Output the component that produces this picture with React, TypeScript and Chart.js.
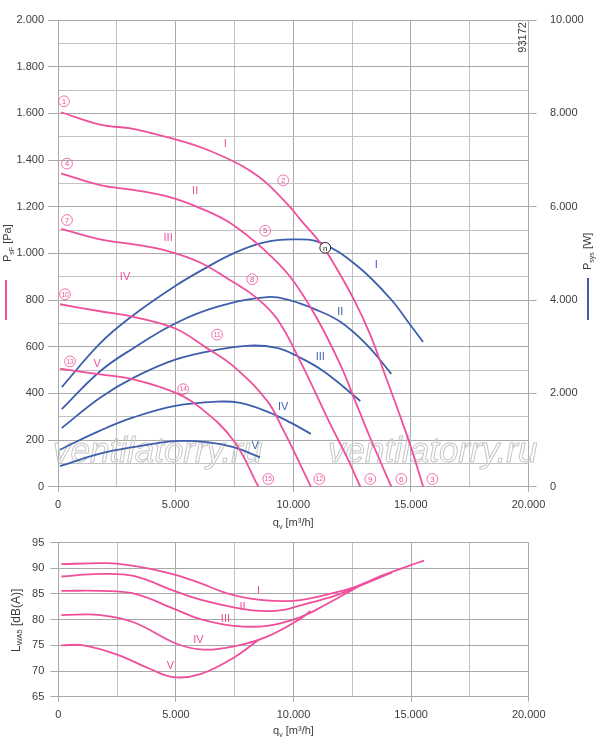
import { useEffect, useRef } from "react"
import { Chart, registerables } from "chart.js"

Chart.register(...registerables)

const PINK = "#ef4f9b"
const BLUE = "#3d5fab"
const GRID_MAJOR = "#a9a9a9"
const GRID_MINOR = "#c2c2c2"
const TEXT = "#3c3c3c"
const FONT = "'Liberation Sans', Arial, Helvetica, sans-serif"

const curveNames = ["I", "II", "III", "IV", "V"]

// static pressure psF [Pa] over volume flow qv [m3/h]
const psfQ1 = [130, 1800, 3200, 4640, 6040, 7450, 8150, 8880, 9940, 10300, 11150, 11700, 12560, 13280, 13900, 14500, 15000, 15520]
const psf1 = [1605, 1552, 1534, 1498, 1456, 1395, 1355, 1300, 1190, 1145, 1045, 960, 806, 650, 480, 315, 170, 0]
const psfQ2 = [130, 1790, 3200, 4640, 6040, 7320, 8730, 9870, 11010, 12000, 12690, 13260, 14170]
const psf2 = [1343, 1293, 1272, 1244, 1194, 1130, 1018, 900, 721, 523, 353, 212, 0]
const psfQ3 = [130, 1790, 3210, 4630, 6040, 7460, 8310, 9300, 10300, 11570, 12280, 12850]
const psf3 = [1105, 1060, 1039, 1011, 961, 876, 820, 721, 537, 269, 127, 0]
const psfQ4 = [85, 1790, 3200, 4980, 6330, 7460, 8890, 9590, 10300, 10750]
const psf4 = [782, 752, 728, 678, 594, 516, 368, 240, 95, 0]
const psfQ5 = [85, 1790, 3200, 4980, 6040, 7460, 8520]
const psf5 = [506, 481, 460, 403, 339, 198, 0]

// system power Psys [W]
const psysQ1 = [160, 1790, 3200, 4980, 6040, 7460, 8730, 9940, 11150, 12710, 14130, 14980, 15520]
const psys1 = [2135, 3074, 3676, 4300, 4620, 5000, 5230, 5300, 5230, 4736, 4028, 3464, 3100]
const psysQ2 = [160, 1790, 3200, 4980, 6750, 8890, 9870, 10860, 12000, 13130, 14170]
const psys2 = [1662, 2474, 2968, 3498, 3852, 4064, 3994, 3816, 3534, 3040, 2417]
const psysQ3 = [160, 1790, 3200, 4980, 6750, 8170, 9300, 10160, 11290, 12850]
const psys3 = [1259, 1908, 2332, 2722, 2934, 3025, 2975, 2800, 2474, 1838]
const psysQ4 = [85, 1790, 3200, 4980, 6750, 7750, 8940, 9870, 10750]
const psys4 = [793, 1202, 1484, 1732, 1823, 1795, 1600, 1378, 1132]
const psysQ5 = [85, 1790, 3200, 4980, 6330, 7460, 8590]
const psys5 = [439, 708, 848, 975, 954, 848, 630]

// sound power LWA5 [dB(A)]
const lwaQ1 = [130, 1790, 2500, 3910, 4980, 6040, 7180, 8170, 9590, 10300, 11710, 12500, 13840, 14980, 15550]
const lwa1 = [90.8, 91.0, 90.9, 89.9, 88.7, 87.1, 85.1, 84.1, 83.6, 83.8, 85.2, 86.2, 88.7, 90.6, 91.5]
const lwaQ2 = [130, 1790, 3200, 4980, 6040, 7460, 8590, 9590, 10300, 11710, 12500, 14200]
const lwa2 = [88.4, 88.9, 88.5, 85.5, 83.9, 82.4, 81.7, 81.9, 82.8, 84.6, 86.0, 89.2]
const lwaQ3 = [130, 1790, 3200, 4980, 6040, 7460, 8880, 10300, 11400, 12500, 12850]
const lwa3 = [85.6, 85.6, 85.1, 82.0, 80.1, 78.8, 78.8, 80.5, 83.0, 85.8, 86.7]
const lwaQ4 = [130, 1790, 3200, 4980, 6040, 7460, 8880, 10300, 10720]
const lwa4 = [80.9, 80.9, 79.5, 75.4, 74.2, 74.8, 76.7, 80.2, 81.7]
const lwaQ5 = [130, 1080, 2500, 3910, 4910, 6040, 7460, 8520]
const lwa5 = [75.0, 75.0, 73.2, 70.4, 68.8, 69.4, 72.6, 76.1]

// curve annotations
const psfLabelQ = [7106, 5829, 4681, 2851, 1660]
const psfLabelP = [1470, 1266, 1066, 897, 524]
const startMarks = ["1", "4", "7", "10", "13"]
const startMarkQ = [255, 383, 383, 298, 511]
const startMarkP = [1652, 1385, 1143, 825, 537]
const midMarks = ["2", "5", "8", "11", "14"]
const midMarkQ = [9574, 8808, 8255, 6765, 5319]
const midMarkP = [1313, 1097, 889, 652, 418]
const endMarks = ["3", "6", "9", "12", "15"]
const endMarkQ = [15914, 14595, 13276, 11106, 8936]
const endMarkP = [33, 33, 33, 33, 33]
const psysLabelQ = [13530, 12000, 11150, 9574, 8382]
const psysLabelW = [4760, 3745, 2790, 1710, 880]
const nominalQ = 11360
const nominalP = 1024
const lwaLabelQ = [8510, 7830, 7106, 5957, 4766]
const lwaLabelL = [85.6, 82.55, 80.1, 76.1, 71.0]

const psfQ = [psfQ1, psfQ2, psfQ3, psfQ4, psfQ5]
const psf = [psf1, psf2, psf3, psf4, psf5]
const psysQ = [psysQ1, psysQ2, psysQ3, psysQ4, psysQ5]
const psys = [psys1, psys2, psys3, psys4, psys5]
const lwaQ = [lwaQ1, lwaQ2, lwaQ3, lwaQ4, lwaQ5]
const lwa = [lwa1, lwa2, lwa3, lwa4, lwa5]

const fmt = (v: number) =>
  v >= 1000 ? `${Math.floor(v / 1000)}.${String(v % 1000).padStart(3, "0")}` : String(v)

const toPoints = (q: number[], v: number[]) => q.map((x, i) => ({ x, y: v[i] }))

type Run = { t: string; size: number; dy: number }

function runsWidth(ctx: CanvasRenderingContext2D, runs: Run[]) {
  let w = 0
  for (const r of runs) {
    ctx.font = `${r.size}px ${FONT}`
    w += ctx.measureText(r.t).width
  }
  return w
}

function drawRuns(ctx: CanvasRenderingContext2D, runs: Run[], x: number, y: number, color: string) {
  ctx.fillStyle = color
  ctx.textAlign = "left"
  ctx.textBaseline = "alphabetic"
  let cx = x
  for (const r of runs) {
    ctx.font = `${r.size}px ${FONT}`
    ctx.fillText(r.t, cx, y + r.dy)
    cx += ctx.measureText(r.t).width
  }
}

function drawVertical(ctx: CanvasRenderingContext2D, runs: Run[], x: number, y: number) {
  ctx.save()
  ctx.translate(x, y)
  ctx.rotate(-Math.PI / 2)
  drawRuns(ctx, runs, 0, 0, TEXT)
  ctx.restore()
}

function circled(ctx: CanvasRenderingContext2D, x: number, y: number, label: string, color: string, filled = false) {
  ctx.beginPath()
  ctx.arc(x, y, 5.4, 0, Math.PI * 2)
  if (filled) {
    ctx.fillStyle = "#fff"
    ctx.fill()
  }
  ctx.strokeStyle = color
  ctx.lineWidth = filled ? 1 : 0.8
  ctx.stroke()
  ctx.fillStyle = color
  ctx.textAlign = "center"
  ctx.textBaseline = "middle"
  ctx.font = `${label.length > 1 ? 6.5 : 8}px ${FONT}`
  ctx.fillText(label, x, y + 0.5)
}

const qvTitle: Run[] = [
  { t: "q", size: 11, dy: 0 },
  { t: "v", size: 7, dy: 2.5 },
  { t: " [m³/h]", size: 11, dy: 0 },
]

const topDecor = {
  id: "topDecor",
  beforeDatasetsDraw(chart: Chart) {
    const { ctx } = chart
    ctx.save()
    ctx.font = `italic 35px ${FONT}`
    ctx.strokeStyle = "#c6c6c6"
    ctx.lineWidth = 1
    ctx.textAlign = "left"
    ctx.textBaseline = "alphabetic"
    ctx.strokeText("ventilatorry.ru", 53, 462)
    ctx.strokeText("ventilatorry.ru", 328, 462)
    ctx.restore()
  },
  afterDatasetsDraw(chart: Chart) {
    const { ctx, scales } = chart
    const x = scales.x
    const y = scales.y
    const y2 = scales.y2
    ctx.save()
    curveNames.forEach((n, i) => {
      ctx.font = `11px ${FONT}`
      ctx.textAlign = "center"
      ctx.textBaseline = "middle"
      ctx.fillStyle = PINK
      ctx.fillText(n, x.getPixelForValue(psfLabelQ[i]), y.getPixelForValue(psfLabelP[i]))
      ctx.fillStyle = BLUE
      ctx.fillText(n, x.getPixelForValue(psysLabelQ[i]), y2.getPixelForValue(psysLabelW[i]))
      circled(ctx, x.getPixelForValue(startMarkQ[i]), y.getPixelForValue(startMarkP[i]), startMarks[i], PINK)
      circled(ctx, x.getPixelForValue(midMarkQ[i]), y.getPixelForValue(midMarkP[i]), midMarks[i], PINK)
      circled(ctx, x.getPixelForValue(endMarkQ[i]), y.getPixelForValue(endMarkP[i]), endMarks[i], PINK)
    })
    circled(ctx, x.getPixelForValue(nominalQ), y.getPixelForValue(nominalP), "n", "#222", true)
    ctx.restore()
  },
  afterDraw(chart: Chart) {
    const { ctx, chartArea } = chart
    ctx.save()
    // x title
    const w = runsWidth(ctx, qvTitle)
    drawRuns(ctx, qvTitle, (chartArea.left + chartArea.right) / 2 - w / 2, chartArea.bottom + 39.5, TEXT)
    // left title with legend stroke
    drawVertical(ctx, [
      { t: "P", size: 11, dy: 0 },
      { t: "sF", size: 7, dy: 2.5 },
      { t: " [Pa]", size: 11, dy: 0 },
    ], 11, 262)
    ctx.strokeStyle = PINK
    ctx.lineWidth = 2
    ctx.beginPath()
    ctx.moveTo(6, 280)
    ctx.lineTo(6, 320)
    ctx.stroke()
    // right title with legend stroke
    drawVertical(ctx, [
      { t: "P", size: 11, dy: 0 },
      { t: "sys", size: 7, dy: 2.5 },
      { t: " [W]", size: 11, dy: 0 },
    ], 591, 270)
    ctx.strokeStyle = BLUE
    ctx.beginPath()
    ctx.moveTo(588, 278)
    ctx.lineTo(588, 320)
    ctx.stroke()
    // drawing number
    ctx.translate(chartArea.right - 5.5, chartArea.top + 2)
    ctx.rotate(-Math.PI / 2)
    ctx.font = `11px ${FONT}`
    ctx.fillStyle = TEXT
    ctx.textAlign = "right"
    ctx.textBaseline = "middle"
    ctx.fillText("93172", 0, 0)
    ctx.restore()
  },
}

const bottomDecor = {
  id: "bottomDecor",
  afterDatasetsDraw(chart: Chart) {
    const { ctx, scales } = chart
    ctx.save()
    ctx.font = `11px ${FONT}`
    ctx.fillStyle = PINK
    ctx.textAlign = "center"
    ctx.textBaseline = "middle"
    curveNames.forEach((n, i) => {
      ctx.fillText(n, scales.x.getPixelForValue(lwaLabelQ[i]), scales.y.getPixelForValue(lwaLabelL[i]))
    })
    ctx.restore()
  },
  afterDraw(chart: Chart) {
    const { ctx, chartArea } = chart
    ctx.save()
    const w = runsWidth(ctx, qvTitle)
    drawRuns(ctx, qvTitle, (chartArea.left + chartArea.right) / 2 - w / 2, chartArea.bottom + 37.5, TEXT)
    drawVertical(ctx, [
      { t: "L", size: 12, dy: 0 },
      { t: "WA5", size: 7.5, dy: 2.5 },
      { t: " [dB(A)]", size: 12, dy: 0 },
    ], 19.5, 122)
    ctx.restore()
  },
}

const gridColor = (step: number) => (c: any) =>
  c.tick && Math.round(c.tick.value) % step === 0 ? GRID_MAJOR : GRID_MINOR
const tickMarkColor = (step: number) => (c: any) =>
  c.tick && Math.round(c.tick.value) % step === 0 ? GRID_MAJOR : "rgba(0,0,0,0)"

const xScale = (height: number) => ({
  type: "linear" as const,
  min: 0,
  max: 20000,
  afterFit: (s: any) => {
    s.height = height
  },
  ticks: {
    stepSize: 2500,
    autoSkip: false,
    maxRotation: 0,
    padding: 7,
    color: TEXT,
    font: { family: FONT, size: 11 },
    callback: (v: any) => (Number(v) % 5000 === 0 ? fmt(Number(v)) : ""),
  },
  grid: { color: gridColor(5000), tickLength: 5, tickColor: tickMarkColor(5000), lineWidth: 1 },
  border: { color: GRID_MAJOR },
})

const lineStyle = (color: string) => ({
  borderColor: color,
  borderWidth: 1.8,
  pointRadius: 0,
  fill: false,
  tension: 0.4,
})

function FanCurves() {
  const topRef = useRef<HTMLCanvasElement>(null)
  const bottomRef = useRef<HTMLCanvasElement>(null)

  useEffect(() => {
    if (!topRef.current || !bottomRef.current) return

    const top = new Chart(topRef.current, {
      type: "line",
      data: {
        datasets: [
          ...curveNames.map((n, i) => ({
            label: `psF ${n}`,
            data: toPoints(psfQ[i], psf[i]),
            ...lineStyle(PINK),
            yAxisID: "y",
          })),
          ...curveNames.map((n, i) => ({
            label: `Psys ${n}`,
            data: toPoints(psysQ[i], psys[i]),
            ...lineStyle(BLUE),
            yAxisID: "y2",
          })),
        ],
      },
      options: {
        animation: false,
        responsive: true,
        maintainAspectRatio: false,
        events: [],
        layout: { padding: { top: 15, left: 0, right: 0, bottom: 0 } },
        plugins: { legend: { display: false }, tooltip: { enabled: false } },
        scales: {
          x: xScale(53.3),
          y: {
            type: "linear",
            position: "left",
            min: 0,
            max: 2000,
            afterFit: (s: any) => {
              s.width = 58
            },
            ticks: {
              stepSize: 100,
              autoSkip: false,
              padding: 4,
              color: TEXT,
              font: { family: FONT, size: 11 },
              callback: (v: any) => (Number(v) % 200 === 0 ? fmt(Number(v)) : ""),
            },
            grid: { color: gridColor(200), tickLength: 10, tickColor: tickMarkColor(200), lineWidth: 1 },
            border: { color: GRID_MAJOR },
          },
          y2: {
            type: "linear",
            position: "right",
            min: 0,
            max: 10000,
            afterFit: (s: any) => {
              s.width = 71.5
            },
            ticks: {
              stepSize: 2000,
              padding: 13.5,
              color: TEXT,
              font: { family: FONT, size: 11 },
              callback: (v: any) => fmt(Number(v)),
            },
            grid: { drawOnChartArea: false, tickLength: 8, tickColor: GRID_MAJOR },
            border: { color: GRID_MAJOR },
          },
        },
      },
      plugins: [topDecor],
    })

    const bottom = new Chart(bottomRef.current, {
      type: "line",
      data: {
        datasets: curveNames.map((n, i) => ({
          label: `LWA5 ${n}`,
          data: toPoints(lwaQ[i], lwa[i]),
          ...lineStyle(PINK),
        })),
      },
      options: {
        animation: false,
        responsive: true,
        maintainAspectRatio: false,
        events: [],
        layout: { padding: { top: 8.3, left: 0, right: 71.3, bottom: 0 } },
        plugins: { legend: { display: false }, tooltip: { enabled: false } },
        scales: {
          x: xScale(50.3),
          y: {
            type: "linear",
            min: 65,
            max: 95,
            afterFit: (s: any) => {
              s.width = 58.3
            },
            ticks: {
              stepSize: 5,
              padding: 6,
              color: TEXT,
              font: { family: FONT, size: 11 },
            },
            grid: { color: GRID_MAJOR, tickLength: 8, tickColor: GRID_MAJOR, lineWidth: 1 },
            border: { color: GRID_MAJOR },
          },
        },
      },
      plugins: [bottomDecor],
    })

    return () => {
      top.destroy()
      bottom.destroy()
    }
  }, [])

  return (
    <div style={{ position: "absolute", left: 0, top: 0, width: 600, height: 747, background: "#fff" }}>
      <div style={{ position: "absolute", left: 0, top: 0, width: 600, height: 540 }}>
        <canvas ref={topRef} />
      </div>
      <div style={{ position: "absolute", left: 0, top: 530, width: 600, height: 217 }}>
        <canvas ref={bottomRef} />
      </div>
    </div>
  )
}

export default function App() {
  return <FanCurves />
}
